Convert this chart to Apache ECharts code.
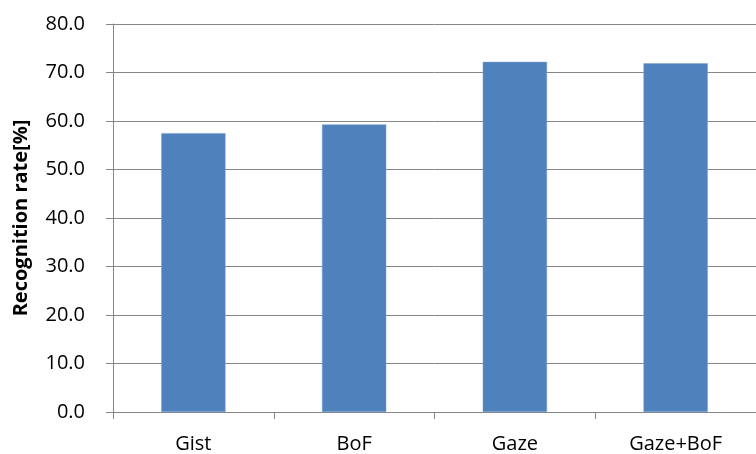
<!DOCTYPE html>
<html>
<head>
<meta charset="utf-8">
<style>
  html, body { margin: 0; padding: 0; background: #fff; }
  #chart { width: 756px; height: 454px; }
</style>
<script src="https://cdn.jsdelivr.net/npm/echarts@6/dist/echarts.min.js"></script>
</head>
<body>
<div id="chart"></div>
<script>
// Recognition rate per feature set
const categories = ['Gist', 'BoF', 'Gaze', 'Gaze+BoF'];
const recognitionRate = [57.5, 59.3, 72.2, 71.9];
const yTicks = [0, 10, 20, 30, 40, 50, 60, 70, 80];

const FONT = '"Open Sans"';
const AXIS_GRAY = '#868686';

const chart = echarts.init(document.getElementById('chart'), null, { renderer: 'canvas' });

chart.setOption({
  animation: false,
  backgroundColor: '#ffffff',
  grid: { left: 113, top: 24, width: 651, bottom: 40, containLabel: false },
  xAxis: {
    type: 'category',
    data: categories,
    boundaryGap: true,
    axisLine: { show: true, lineStyle: { color: AXIS_GRAY, width: 1 } },
    axisTick: { show: true, length: 7, lineStyle: { color: AXIS_GRAY, width: 1 } },
    axisLabel: { color: '#000', fontFamily: FONT, fontSize: 20, margin: 22 },
    splitLine: { show: false }
  },
  yAxis: {
    type: 'value',
    min: yTicks[0],
    max: yTicks[yTicks.length - 1],
    interval: 10,
    name: 'Recognition rate[%]',
    nameLocation: 'middle',
    nameGap: 82,
    nameRotate: 90,
    nameTextStyle: { color: '#000', fontFamily: FONT, fontSize: 20, fontWeight: 'bold' },
    axisLine: { show: true, lineStyle: { color: AXIS_GRAY, width: 1 } },
    axisTick: { show: true, length: 7, lineStyle: { color: AXIS_GRAY, width: 1 } },
    axisLabel: {
      color: '#000', fontFamily: FONT, fontSize: 20, margin: 28,
      formatter: v => v.toFixed(1)
    },
    splitLine: { show: true, lineStyle: { color: AXIS_GRAY, width: 1 } }
  },
  series: [{
    type: 'bar',
    data: recognitionRate,
    barWidth: '40%',
    itemStyle: { color: '#4F81BD', borderColor: '#7FA2CF', borderWidth: 0.5 }
  }]
});
</script>
</body>
</html>
